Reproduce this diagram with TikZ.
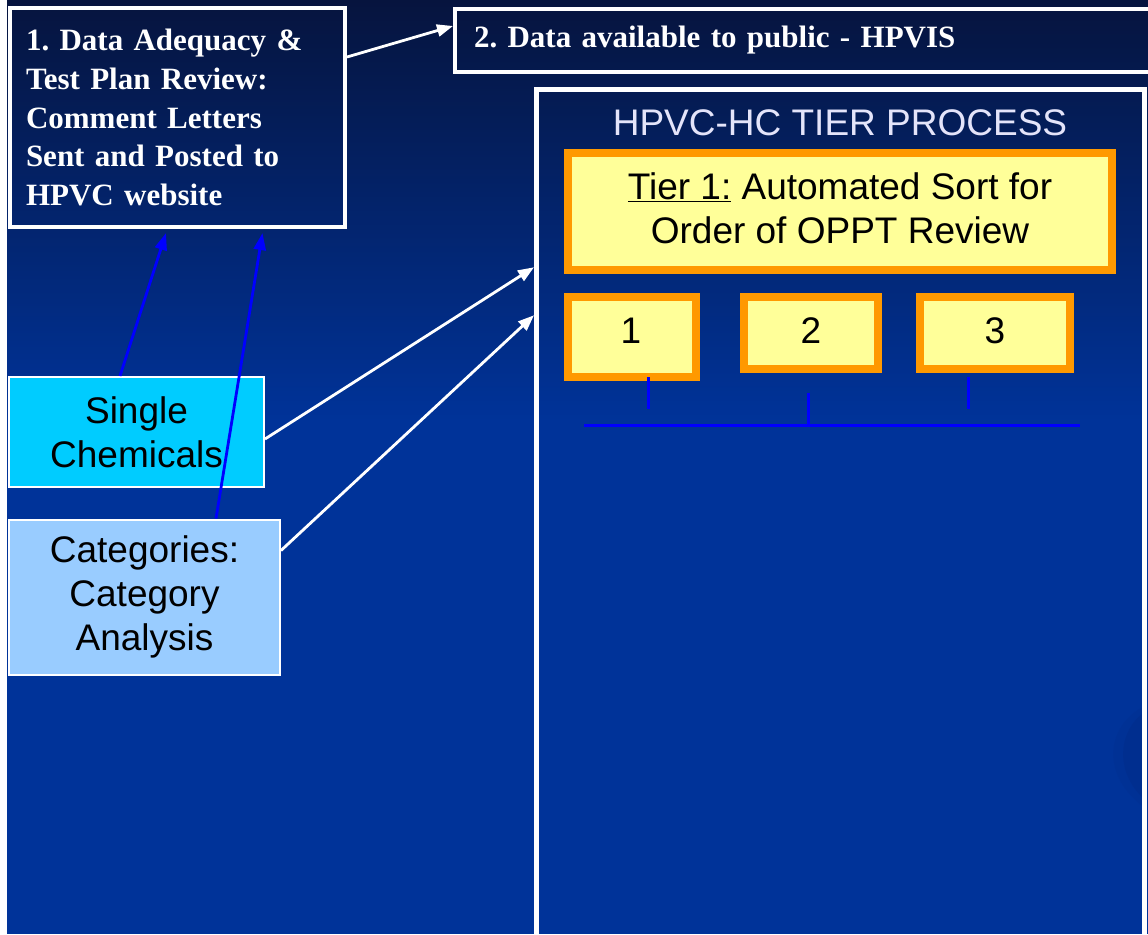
\documentclass[tikz,border=0pt]{standalone}
\usepackage{fontspec}
\setmainfont{Liberation Serif}
\newfontfamily\arialf{Liberation Sans}
\usetikzlibrary{arrows.meta,calc}
\definecolor{bgtop}{RGB}{6,20,62}
\definecolor{bgblue}{RGB}{0,51,153}
\definecolor{cyanbox}{RGB}{0,204,255}
\definecolor{catbox}{RGB}{153,204,255}
\definecolor{tierfill}{RGB}{255,255,153}
\definecolor{tierorange}{RGB}{255,153,0}
\definecolor{linkblue}{RGB}{0,0,255}
\definecolor{titlelav}{RGB}{228,228,250}
\definecolor{swooshA}{RGB}{0,49,149}
\definecolor{swooshB}{RGB}{0,46,143}
\frenchspacing
\begin{document}
\begin{tikzpicture}[x=1pt,y=-1pt,
  whitebox/.style={draw=white, line width=4pt, inner sep=0pt},
  seriftext/.style={font=\fontsize{31}{38.7}\selectfont\bfseries\frenchspacing, text=white},
  arialtext/.style={font=\arialf\fontsize{37}{44}\selectfont},
  tierbox/.style={draw=tierorange, fill=tierfill, line width=8pt, inner sep=0pt},
  leftbox/.style={draw=white, line width=2pt, inner sep=0pt, align=center, arialtext},
  numtext/.style={anchor=base, inner sep=0pt, arialtext},
  whitearrow/.style={draw=white, line width=2.8pt, -{Triangle[length=16pt,width=12pt]}},
  bluearrow/.style={draw=linkblue, line width=2.8pt, -{Triangle[length=17pt,width=12pt]}},
  bluelink/.style={draw=linkblue, line width=3pt}
]
\useasboundingbox (0,0) rectangle (1148,934);
\begin{scope}
\clip (0,0) rectangle (1148,934);
% background
\fill[white] (0,0) rectangle (1148,934);
\shade[top color=bgtop, bottom color=bgblue] (7,0) rectangle (1148,421);
\fill[bgblue] (7,420) rectangle (1148,934);
% faint swoosh at right
\fill[swooshA] (1145,706) .. controls (1110,722) and (1096,772) .. (1145,808) -- cycle;
\fill[swooshB] (1145,712) .. controls (1120,728) and (1112,770) .. (1145,800) -- cycle;

% top boxes
\node[whitebox, seriftext, minimum width=335pt, minimum height=219pt,
      text width=303pt, inner xsep=16pt, align=left] (box1) at (177.5,117.5)
  {1. Data Adequacy \&\\ Test Plan Review:\\ Comment Letters\\ Sent and Posted to\\ HPVC website};
\node[whitebox, font=\fontsize{31}{36}\selectfont\bfseries\frenchspacing, text=white,
      minimum width=743pt, minimum height=63pt,
      text width=705pt, inner xsep=19pt, align=left] (box2) at (826.5,40.5)
  {2. Data available to public - HPVIS};

% big tier process box
\node[draw=white, line width=5pt, minimum width=608pt, minimum height=870pt, inner sep=0pt] (big) at (840.5,524.75) {};
\node[anchor=base, inner sep=0pt, arialtext, text=titlelav] (title) at (840,135) {HPVC-HC TIER PROCESS};
\node[tierbox, arialtext, align=center, minimum width=544pt, minimum height=117pt] (tier1) at (840,211.5)
  {\underline{Tier 1:} Automated Sort for\\ Order of OPPT Review\vphantom{g}};
\node[tierbox, minimum width=128pt, minimum height=80pt] (b1) at (632,337) {};
\node[tierbox, minimum width=134pt, minimum height=72pt] (b2) at (811,333) {};
\node[tierbox, minimum width=150pt, minimum height=72pt] (b3) at (995,333) {};
\node[numtext] (n1) at (631,343) {1};
\node[numtext] (n2) at (811,343) {2};
\node[numtext] (n3) at (995,343) {3};

% branch lines under the tier boxes
\coordinate (hl) at (584,425);
\coordinate (hr) at (1080,425);
\coordinate (v1b) at (648,409);
\coordinate (v2b) at (808,425);
\coordinate (v3b) at (968,409);
\draw[bluelink] (hl) -- (hr);
\draw[bluelink] ($(b1.south west)+(84,-4)$) -- (v1b);
\draw[bluelink] ($(b2.south west)+(68,20)$) -- (v2b);
\draw[bluelink] ($(b3.south west)+(52,4)$) -- (v3b);

% left boxes
\node[leftbox, fill=cyanbox, minimum width=255pt, minimum height=110pt] (single) at (136.5,432)
  {Single\\Chemicals};
\node[leftbox, fill=catbox, minimum width=271pt, minimum height=155pt] (cat) at (144.5,597)
  {Categories:\\Category\\Analysis};

% connectors
\draw[whitearrow] ($(box1.north east)+(0,51)$) -- ($(box2.north west)+(0,19)$);
\draw[whitearrow] ($(single.north east)+(0,63)$) -- ($(big.north west)+(0,180)$);
\draw[whitearrow] ($(cat.north east)+(0,32)$) -- ($(big.north west)+(0,228)$);
\draw[bluearrow] ($(single.north west)+(112,0)$) -- ($(box1.south west)+(158,4)$);
\draw[bluearrow] ($(cat.north west)+(208,0)$) -- ($(box1.south west)+(254.5,4)$);
\end{scope}
\end{tikzpicture}
\end{document}
